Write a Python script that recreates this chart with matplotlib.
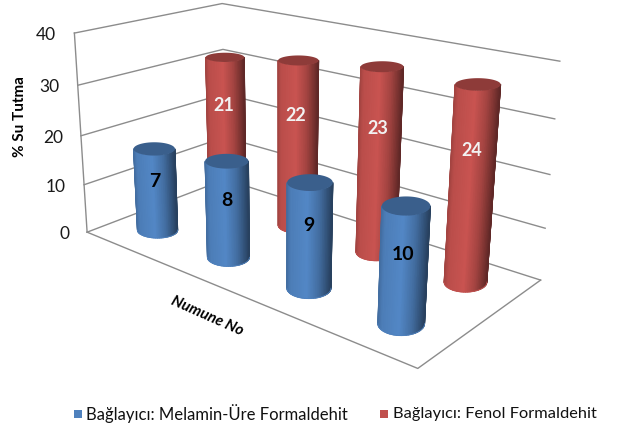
import numpy as np
import matplotlib
matplotlib.use("Agg")
import matplotlib.pyplot as plt
from matplotlib.colors import to_rgb
from matplotlib.patches import Polygon, Rectangle

# Chart data
blue_labels = ["7", "8", "9", "10"]
red_labels = ["21", "22", "23", "24"]
blue_values = [17.0, 19.0, 19.7, 20.6]
red_values = [31.5, 34.0, 36.0, 36.2]
blue_name = "Bağlayıcı: Melamin-Üre Formaldehit"
red_name = "Bağlayıcı: Fenol Formaldehit"
y_ticks = [0, 10, 20, 30, 40]
y_title = "% Su Tutma"
x_title = "Numune No"

# Styling and scene geometry
Y_MAX = 40.0
BLUE = "#4F81BD"
RED = "#C0504D"
GRID = "#8C8C8C"
ROW_BLUE, ROW_RED = 0.25, 0.76
RAD_U, RAD_V = 0.045, 0.11
FONT = "Lato"

# Camera calibration: unit box corners (u, v, w) and their place on the canvas
box_corners = np.array([
    (0, 0, 0), (1, 0, 0), (1, 1, 0), (0, 1, 0),
    (0, 0, 1), (0, 1, 1), (1, 1, 1),
], float)
canvas_corners = np.array([
    (89, 231), (417, 370), (542, 278), (223, 181),
    (73, 33), (224, 3), (559, 62),
], float)


def solve_camera(world, image):
    rows = []
    for (u, v, w), (x, y) in zip(world, image):
        rows.append([u, v, w, 1, 0, 0, 0, 0, -x*u, -x*v, -x*w, -x])
        rows.append([0, 0, 0, 0, u, v, w, 1, -y*u, -y*v, -y*w, -y])
    return np.linalg.svd(np.array(rows))[2][-1].reshape(3, 4)


CAM = solve_camera(box_corners, canvas_corners)


def project(u, v, value):
    u, v, value = np.broadcast_arrays(u, v, value)
    pts = np.stack([u, v, np.asarray(value) / Y_MAX, np.ones(u.shape)], axis=-1)
    h = pts @ CAM.T
    return h[..., :2] / h[..., 2:]


def shade(base, t):
    """Cylinder side colour; t runs from the left silhouette (0) to the right (1)."""
    base = np.array(to_rgb(base))
    gain = np.interp(t, [0, 0.08, 0.45, 0.72, 1], [0.85, 0.97, 1.05, 0.85, 0.50])
    return np.clip(base[None, :] * gain[:, None], 0, 1)


def rim(u, v, value):
    """Level ellipse around the projected centre, sized by the projected radii."""
    ang = np.linspace(0, 2 * np.pi, 241)
    ring = project(u + RAD_U * np.cos(ang), v + RAD_V * np.sin(ang), value)
    centre = project(u, v, value)
    half = (ring.max(axis=0) - ring.min(axis=0)) / 2
    return centre[0] + half[0] * np.cos(ang), centre[1] + half[1] * np.sin(ang)


def cylinder(ax, u, v, value, color, z):
    bx, by = rim(u, v, 0.0)
    tx, ty = rim(u, v, value)
    # Front half of each rim: angle pi (left) down through pi/2 to 0 (right)
    front = np.arange(120, -1, -4)
    X = np.vstack([tx[front], bx[front]])
    Y = np.vstack([ty[front], by[front]])
    t = (tx[front] - tx.min()) / (tx.max() - tx.min())
    shades = shade(color, t)
    ax.pcolormesh(X, Y, np.stack([shades, shades]), shading="gouraud", zorder=z)
    # Thin outline softens the jagged edge of the smooth-shaded mesh
    ax.plot([tx[120], bx[120]], [ty[120], by[120]], color=shades[0], lw=0.6, zorder=z + 0.05)
    ax.plot([tx[0], bx[0]], [ty[0], by[0]], color=shades[-1], lw=0.6, zorder=z + 0.05)
    ax.plot(bx[front], by[front], color=to_rgb(color), lw=0.6, zorder=z + 0.05)
    ax.add_patch(Polygon(np.column_stack([tx, ty]), closed=True,
                         facecolor=np.array(to_rgb(color)) * 0.74,
                         edgecolor="none", zorder=z + 0.1))


plt.rcParams["font.family"] = [FONT, "DejaVu Sans"]
fig = plt.figure(figsize=(6.17, 4.30), dpi=100, facecolor="white")
ax = fig.add_axes([0, 0, 1, 1])

# Walls, floor and gridlines
for tick in y_ticks:
    pts = project(np.array([0, 0, 1.0]), np.array([0, 1, 1.0]), tick)
    ax.plot(pts[:, 0], pts[:, 1], color=GRID, lw=1.0, zorder=1)
    x0, y0 = project(0.0, 0.0, tick)
    ax.text(x0 - 18, y0 + 2, str(tick), ha="right", va="center", fontsize=12.5,
            color="#1a1a1a")
edge = project(np.array([0.0, 0.0]), np.array([0.0, 0.0]), np.array([0.0, Y_MAX]))
ax.plot(edge[:, 0], edge[:, 1], color=GRID, lw=1.0, zorder=1)
floor = project(np.array([0, 1, 1.0]), np.array([0, 0, 1.0]), 0.0)
ax.plot(floor[:, 0], floor[:, 1], color=GRID, lw=1.0, zorder=1)

# Back row, then front row, each drawn left to right
count = len(blue_values)
for i in range(count):
    u = (i + 0.5) / count
    cylinder(ax, u, ROW_RED, red_values[i], RED, 3 + 0.2 * i)
for i in range(count):
    u = (i + 0.5) / count
    cylinder(ax, u, ROW_BLUE, blue_values[i], BLUE, 5 + 0.2 * i)

for i in range(count):
    u = (i + 0.5) / count
    x, y = project(u, ROW_RED, red_values[i] * 0.68)
    ax.text(x - 2, y, red_labels[i], color="#F2F2F2", fontsize=13, fontweight="bold",
            ha="center", va="center", zorder=9)
    x, y = project(u, ROW_BLUE, blue_values[i] * 0.60)
    ax.text(x - 1, y, blue_labels[i], color="black", fontsize=14, fontweight="bold",
            ha="center", va="center", zorder=9)

# Axis titles
ax.text(20, 117, y_title, rotation=90, ha="center", va="center", fontsize=11,
        fontweight="bold", color="black")
ax.text(207, 316, x_title, rotation=-24, ha="center", va="center", fontsize=11,
        fontweight="bold", fontstyle="italic", color="black",
        rotation_mode="anchor")

# Legend
ax.add_patch(Rectangle((74, 410), 8, 8, facecolor=BLUE, edgecolor="none"))
ax.text(86, 414, blue_name, ha="left", va="center", fontsize=12, color="#111111")
ax.add_patch(Rectangle((380, 410), 8, 8, facecolor=RED, edgecolor="none"))
ax.text(393, 414, red_name, ha="left", va="center", fontsize=11.8, color="#111111")

ax.set_xlim(0, 617)
ax.set_ylim(430, 0)
ax.axis("off")

fig.savefig("out.png", dpi=100, facecolor="white")
